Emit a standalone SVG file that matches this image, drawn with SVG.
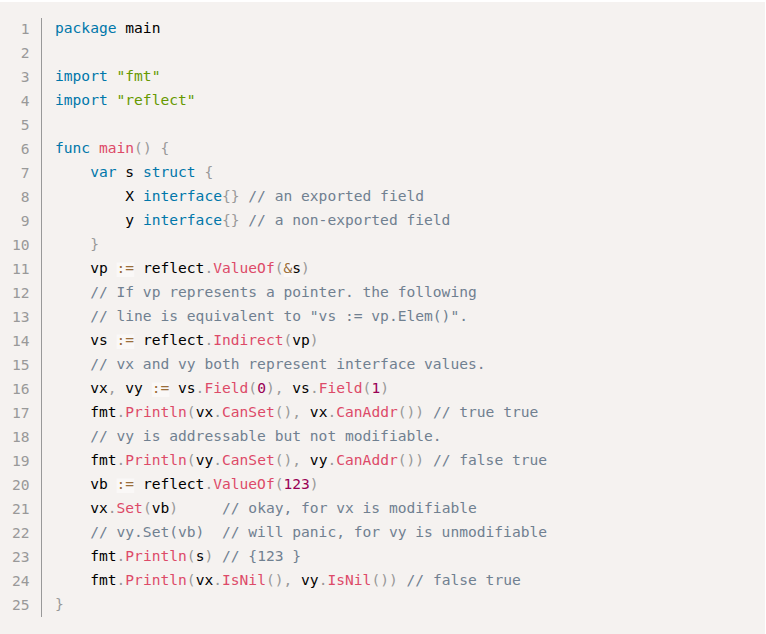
<svg xmlns="http://www.w3.org/2000/svg" width="766" height="634" viewBox="0 0 766 634">
<style>
text{font-family:"DejaVu Sans Mono","Liberation Mono",monospace;font-size:14.6px;fill:#000;white-space:pre}
.ln{fill:#999;text-anchor:end}
.k{fill:#0077aa}
.f{fill:#dd4a68}
.s{fill:#669900}
.c{fill:#708090}
.p{fill:#999999}
.o{fill:#9a6e3a}
.n{fill:#990055}
.ob{fill:#faf8f7}
</style>
<rect x="0" y="2" width="765" height="632" fill="#f5f2f0"/>
<line x1="41.5" y1="18" x2="41.5" y2="617" stroke="#999" stroke-width="1"/>
<g id="opbg">
<rect class="ob" x="116.6" y="262.5" width="17.6" height="14.5"/>
<rect class="ob" x="283.8" y="262.5" width="8.8" height="14.5"/>
<rect class="ob" x="116.6" y="334.5" width="17.6" height="14.5"/>
<rect class="ob" x="151.8" y="382.5" width="17.6" height="14.5"/>
<rect class="ob" x="116.6" y="478.5" width="17.6" height="14.5"/>
</g>
<g id="linenumbers">
<text class="ln" x="29.5" y="34">1</text>
<text class="ln" x="29.5" y="58">2</text>
<text class="ln" x="29.5" y="82">3</text>
<text class="ln" x="29.5" y="106">4</text>
<text class="ln" x="29.5" y="130">5</text>
<text class="ln" x="29.5" y="154">6</text>
<text class="ln" x="29.5" y="178">7</text>
<text class="ln" x="29.5" y="202">8</text>
<text class="ln" x="29.5" y="226">9</text>
<text class="ln" x="29.5" y="250">10</text>
<text class="ln" x="29.5" y="274">11</text>
<text class="ln" x="29.5" y="298">12</text>
<text class="ln" x="29.5" y="322">13</text>
<text class="ln" x="29.5" y="346">14</text>
<text class="ln" x="29.5" y="370">15</text>
<text class="ln" x="29.5" y="394">16</text>
<text class="ln" x="29.5" y="418">17</text>
<text class="ln" x="29.5" y="442">18</text>
<text class="ln" x="29.5" y="466">19</text>
<text class="ln" x="29.5" y="490">20</text>
<text class="ln" x="29.5" y="514">21</text>
<text class="ln" x="29.5" y="538">22</text>
<text class="ln" x="29.5" y="562">23</text>
<text class="ln" x="29.5" y="586">24</text>
<text class="ln" x="29.5" y="610">25</text>
</g>
<g id="code" xml:space="preserve">
<text x="55" y="33"><tspan class="k">package</tspan> main</text>
<text x="55" y="81"><tspan class="k">import</tspan> <tspan class="s">"fmt"</tspan></text>
<text x="55" y="105"><tspan class="k">import</tspan> <tspan class="s">"reflect"</tspan></text>
<text x="55" y="153"><tspan class="k">func</tspan> <tspan class="f">main</tspan><tspan class="p">()</tspan> <tspan class="p">{</tspan></text>
<text x="55" y="177">    <tspan class="k">var</tspan> s <tspan class="k">struct</tspan> <tspan class="p">{</tspan></text>
<text x="55" y="201">        X <tspan class="k">interface</tspan><tspan class="p">{}</tspan> <tspan class="c">// an exported field</tspan></text>
<text x="55" y="225">        y <tspan class="k">interface</tspan><tspan class="p">{}</tspan> <tspan class="c">// a non-exported field</tspan></text>
<text x="55" y="249">    <tspan class="p">}</tspan></text>
<text x="55" y="273">    vp <tspan class="o">:=</tspan> reflect<tspan class="p">.</tspan><tspan class="f">ValueOf</tspan><tspan class="p">(</tspan><tspan class="o">&amp;</tspan>s<tspan class="p">)</tspan></text>
<text x="55" y="297">    <tspan class="c">// If vp represents a pointer. the following</tspan></text>
<text x="55" y="321">    <tspan class="c">// line is equivalent to "vs := vp.Elem()".</tspan></text>
<text x="55" y="345">    vs <tspan class="o">:=</tspan> reflect<tspan class="p">.</tspan><tspan class="f">Indirect</tspan><tspan class="p">(</tspan>vp<tspan class="p">)</tspan></text>
<text x="55" y="369">    <tspan class="c">// vx and vy both represent interface values.</tspan></text>
<text x="55" y="393">    vx<tspan class="p">,</tspan> vy <tspan class="o">:=</tspan> vs<tspan class="p">.</tspan><tspan class="f">Field</tspan><tspan class="p">(</tspan><tspan class="n">0</tspan><tspan class="p">),</tspan> vs<tspan class="p">.</tspan><tspan class="f">Field</tspan><tspan class="p">(</tspan><tspan class="n">1</tspan><tspan class="p">)</tspan></text>
<text x="55" y="417">    fmt<tspan class="p">.</tspan><tspan class="f">Println</tspan><tspan class="p">(</tspan>vx<tspan class="p">.</tspan><tspan class="f">CanSet</tspan><tspan class="p">(),</tspan> vx<tspan class="p">.</tspan><tspan class="f">CanAddr</tspan><tspan class="p">())</tspan> <tspan class="c">// true true</tspan></text>
<text x="55" y="441">    <tspan class="c">// vy is addressable but not modifiable.</tspan></text>
<text x="55" y="465">    fmt<tspan class="p">.</tspan><tspan class="f">Println</tspan><tspan class="p">(</tspan>vy<tspan class="p">.</tspan><tspan class="f">CanSet</tspan><tspan class="p">(),</tspan> vy<tspan class="p">.</tspan><tspan class="f">CanAddr</tspan><tspan class="p">())</tspan> <tspan class="c">// false true</tspan></text>
<text x="55" y="489">    vb <tspan class="o">:=</tspan> reflect<tspan class="p">.</tspan><tspan class="f">ValueOf</tspan><tspan class="p">(</tspan><tspan class="n">123</tspan><tspan class="p">)</tspan></text>
<text x="55" y="513">    vx<tspan class="p">.</tspan><tspan class="f">Set</tspan><tspan class="p">(</tspan>vb<tspan class="p">)</tspan>     <tspan class="c">// okay, for vx is modifiable</tspan></text>
<text x="55" y="537">    <tspan class="c">// vy.Set(vb)  // will panic, for vy is unmodifiable</tspan></text>
<text x="55" y="561">    fmt<tspan class="p">.</tspan><tspan class="f">Println</tspan><tspan class="p">(</tspan>s<tspan class="p">)</tspan> <tspan class="c">// {123 }</tspan></text>
<text x="55" y="585">    fmt<tspan class="p">.</tspan><tspan class="f">Println</tspan><tspan class="p">(</tspan>vx<tspan class="p">.</tspan><tspan class="f">IsNil</tspan><tspan class="p">(),</tspan> vy<tspan class="p">.</tspan><tspan class="f">IsNil</tspan><tspan class="p">())</tspan> <tspan class="c">// false true</tspan></text>
<text x="55" y="609"><tspan class="p">}</tspan></text>
</g>
</svg>
